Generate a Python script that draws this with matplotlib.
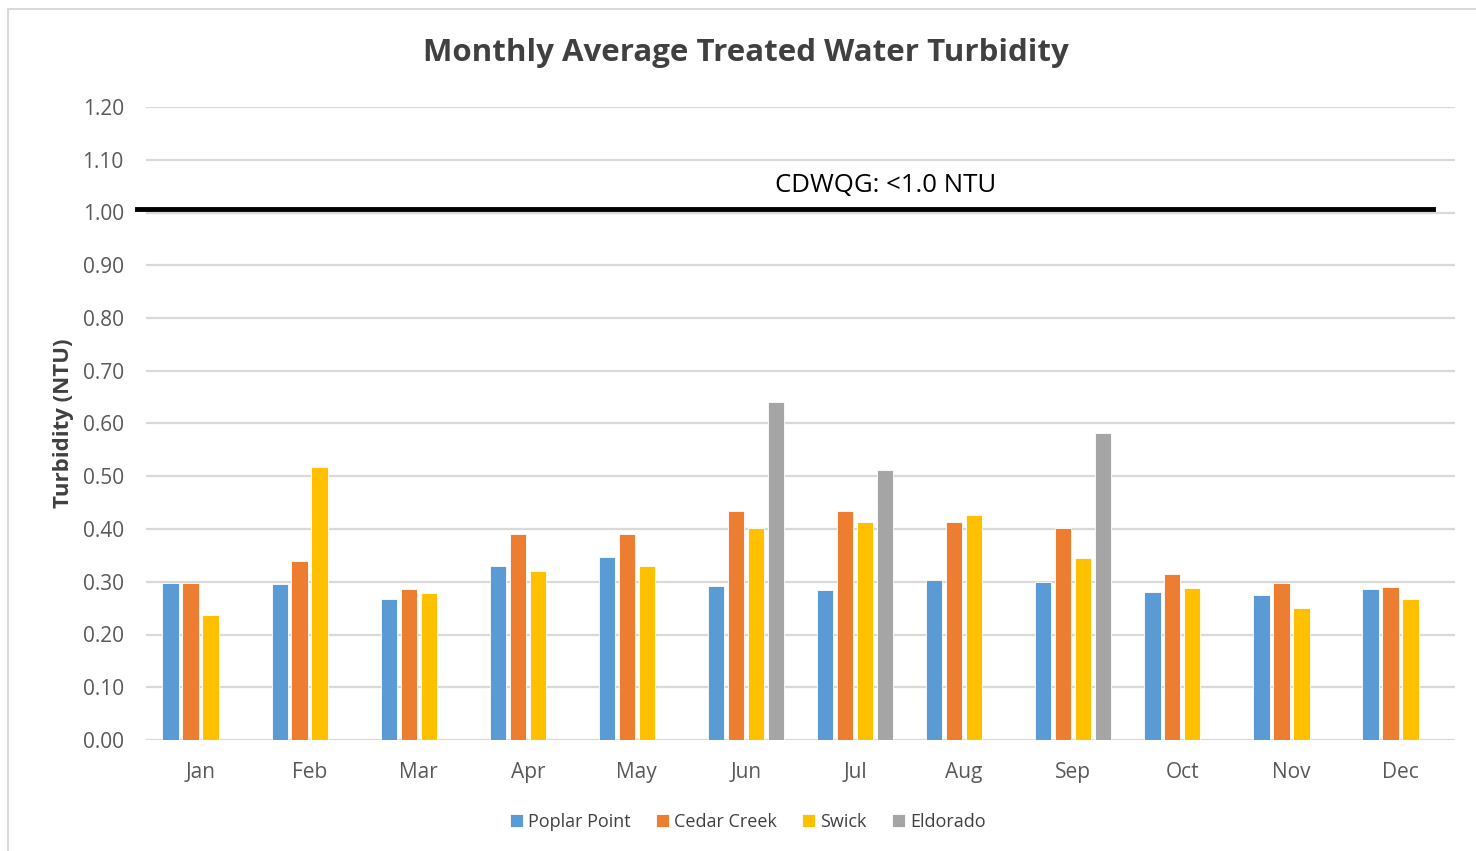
import numpy as np
import matplotlib.pyplot as plt
from matplotlib.patches import Rectangle

plt.rcParams['font.family'] = ['Open Sans', 'DejaVu Sans']

months = ['Jan', 'Feb', 'Mar', 'Apr', 'May', 'Jun', 'Jul', 'Aug', 'Sep', 'Oct', 'Nov', 'Dec']
poplar_point = [0.298, 0.296, 0.267, 0.330, 0.347, 0.292, 0.284, 0.303, 0.300, 0.281, 0.275, 0.286]
cedar_creek = [0.298, 0.339, 0.286, 0.391, 0.391, 0.434, 0.434, 0.413, 0.402, 0.315, 0.298, 0.290]
swick = [0.237, 0.518, 0.279, 0.320, 0.330, 0.402, 0.413, 0.427, 0.345, 0.288, 0.250, 0.267]
eldorado = [np.nan, np.nan, np.nan, np.nan, np.nan, 0.641, 0.512, np.nan, 0.582, np.nan, np.nan, np.nan]
limit = 1.007

series = [('Poplar Point', poplar_point, '#5b9bd5'),
          ('Cedar Creek', cedar_creek, '#ed7d31'),
          ('Swick', swick, '#ffc000'),
          ('Eldorado', eldorado, '#a5a5a5')]

fig = plt.figure(figsize=(14.76, 8.51), dpi=100)
W, H = 1476, 851
ax = fig.add_axes([146 / W, 1 - 740 / H, (1455 - 146) / W, (740 - 107) / H])

# chart border (right and bottom edges are cut off in the original)
fig.patches.append(Rectangle((7.5 / W, -0.2), 1.2, 1.2 - 8.5 / H, transform=fig.transFigure,
                             fill=False, edgecolor='#d9d9d9', linewidth=1.5))

x = np.arange(len(months))
step = 0.183
bw = 0.15
for i, (name, vals, col) in enumerate(series):
    ax.bar(x + (i - 1.5) * step, vals, width=bw, color=col, edgecolor='white',
           linewidth=0.6, label=name, zorder=3)

ax.set_xlim(-0.5, 11.5)
ax.set_ylim(0, 1.2)
ax.set_yticks(np.arange(0, 1.21, 0.1))
ax.set_yticklabels([f'{v:.2f}' for v in np.arange(0, 1.21, 0.1)])
ax.set_xticks(x)
ax.set_xticklabels(months)
ax.grid(axis='y', color='#d9d9d9', linewidth=1.6, zorder=0)
for s in ax.spines.values():
    s.set_visible(False)
ax.tick_params(axis='both', length=0, labelsize=15, colors='#595959')
ax.tick_params(axis='y', pad=16)
ax.tick_params(axis='x', pad=16)

ax.plot([-0.58, 11.30], [limit, limit], color='black', linewidth=3.5, zorder=4, clip_on=False)
ax.text(6.28, 1.052, 'CDWQG: <1.0 NTU', ha='center', va='center', fontsize=18.5, color='black')

ax.set_ylabel('Turbidity (NTU)', fontsize=16, fontweight='bold', color='#404040', labelpad=6)
fig.text(746 / W, 1 - 53 / H, 'Monthly Average Treated Water Turbidity', ha='center', va='center',
         fontsize=22.5, fontweight='bold', color='#404040')

fig.legend(loc='center', bbox_to_anchor=(748 / W, 1 - 822 / H), ncol=4, frameon=False,
           fontsize=13, handlelength=0.7, handleheight=0.7, handletextpad=0.3,
           columnspacing=1.4, labelcolor='#404040')

fig.savefig('out.png', dpi=100)
